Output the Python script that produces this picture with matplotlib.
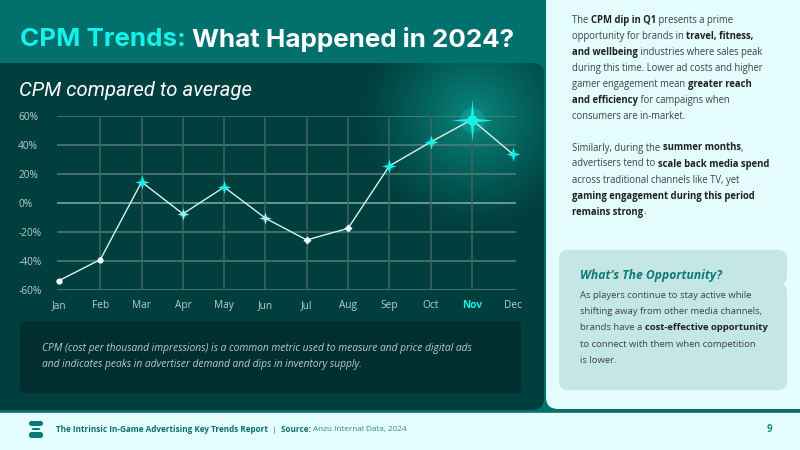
import numpy as np
import matplotlib
matplotlib.use("Agg")
import matplotlib.pyplot as plt
from matplotlib.patches import FancyBboxPatch, Rectangle
from matplotlib.path import Path

# data
months = ["Jan", "Feb", "Mar", "Apr", "May", "Jun", "Jul", "Aug", "Sep", "Oct", "Nov", "Dec"]
cpm_vs_avg = [-53.5, -39, 14.5, -7.5, 11, -10.5, -25.5, -17.5, 25.5, 42, 57.5, 33.5]
y_ticks = [60, 40, 20, 0, -20, -40, -60]
highlight_month = "Nov"

title_a = "CPM Trends:"
title_b = "What Happened in 2024?"
subtitle = "CPM compared to average"
caption = ["CPM (cost per thousand impressions) is a common metric used to measure and price digital ads",
           "and indicates peaks in advertiser demand and dips in inventory supply."]

# right panel copy, (text, bold) runs per line
para1 = [
    [("The ", 0), ("CPM dip in Q1", 1), (" presents a prime", 0)],
    [("opportunity for brands in ", 0), ("travel, fitness,", 1)],
    [("and wellbeing", 1), (" industries where sales peak", 0)],
    [("during this time. Lower ad costs and higher", 0)],
    [("gamer engagement mean ", 0), ("greater reach", 1)],
    [("and efficiency", 1), (" for campaigns when", 0)],
    [("consumers are in-market.", 0)],
]
para2 = [
    [("Similarly, during the ", 0), ("summer months", 1), (",", 0)],
    [("advertisers tend to ", 0), ("scale back media spend", 1)],
    [("across traditional channels like TV, yet", 0)],
    [("gaming engagement during this period", 1)],
    [("remains strong", 1), (".", 0)],
]
opp_title = "What\u2019s The Opportunity?"
opp_body = [
    [("As players continue to stay active while", 0)],
    [("shifting away from other media channels,", 0)],
    [("brands have a ", 0), ("cost-effective opportunity", 1)],
    [("to connect with them when competition", 0)],
    [("is lower.", 0)],
]
footer_title = "The Intrinsic In-Game Advertising Key Trends Report"
footer_source = "Anzu Internal Data, 2024"
page_no = "9"

TEAL_BG = "#02716e"
DARK = "#003f3e"
LIGHT = "#e4fcfc"
CYAN = "#14f2ea"
BODY = "Open Sans"

fig = plt.figure(figsize=(8, 4.5), dpi=100)
fig.patch.set_facecolor(TEAL_BG)
bg = fig.add_axes([0, 0, 1, 1])
bg.set_xlim(0, 800)
bg.set_ylim(450, 0)
bg.axis("off")


def box(x0, y0, x1, y1, color, r=10, z=1, **kw):
    p = FancyBboxPatch((x0, y0), x1 - x0, y1 - y0,
                       boxstyle=f"round,pad=0,rounding_size={r}",
                       fc=color, ec="none", zorder=z, **kw)
    bg.add_patch(p)
    return p


# panels
dark_panel = box(-20, 63, 544, 410, DARK, r=12)
box(546, -20, 820, 409, LIGHT, r=12)
box(20, 321, 521, 393, "#012f30", r=6, z=2)
box(559, 250, 787, 285, "#c4e6e4", r=9, z=2)
box(559, 283, 787, 390, "#c4e6e4", r=9, z=2)
bg.add_patch(Rectangle((559, 275), 200, 18, fc="#c4e6e4", ec="none", zorder=2))
bg.add_patch(Rectangle((-5, 412), 810, 45, fc=LIGHT, ec="#0b6f6b", lw=1.2, zorder=3))

# glow behind the peak
gx, gy, R = 474, 116, 115
xx, yy = np.meshgrid(np.linspace(gx - R, gx + R, 240), np.linspace(gy - R, gy + R, 240))
rr = np.hypot(xx - gx, yy - gy) / R
glow = np.zeros((240, 240, 4))
glow[..., 0], glow[..., 1], glow[..., 2] = 0.05, 0.6, 0.56
glow[..., 3] = np.clip(1 - rr, 0, 1) ** 1.2 * 0.8
im = bg.imshow(glow, extent=(gx - R, gx + R, gy + R, gy - R), zorder=1.5, interpolation="bilinear")
im.set_clip_path(dark_panel)
bg.set_xlim(0, 800)
bg.set_ylim(450, 0)

# titles
t = bg.text(20, 40, title_a + " ", color=CYAN, fontsize=18.7, fontweight="bold",
            family="Inter", va="center", zorder=5)
fig.canvas.draw()
r = fig.canvas.get_renderer()
w = t.get_window_extent(r).width
bg.text(20 + w, 40, title_b, color="white", fontsize=18.7, fontweight="bold",
        family="Inter", va="center", zorder=5)
bg.text(19, 90, subtitle, color="white", fontsize=14.6, style="italic",
        family="Roboto", va="center", zorder=5)
for i, line in enumerate(caption):
    bg.text(42, 348 + 16 * i, line, color="#b9cccc", fontsize=7.4, style="italic",
            family=BODY, va="center", zorder=5)


def run_width(s, **kw):
    a = bg.text(0, 0, s + "|", **kw)
    b = bg.text(0, 0, "|", **kw)
    wd = a.get_window_extent(r).width - b.get_window_extent(r).width
    a.remove()
    b.remove()
    return wd


def rich(lines, x, y0, dy, size, reg="#3c4444", bold="#1d2222"):
    for i, line in enumerate(lines):
        cx = x
        for s, b in line:
            kw = dict(fontsize=size, family=BODY, fontweight="bold" if b else "normal",
                      color=bold if b else reg, va="center", zorder=5)
            bg.text(cx, y0 + dy * i, s, **kw)
            cx += run_width(s, **kw)


rich(para1, 572, 20.5, 16, 6.85)
rich(para2, 572, 148, 16, 6.85)
bg.text(580, 275, opp_title, fontsize=8.7, fontweight="bold", style="italic",
        family="Open Sans", color="#0c7a75", va="center", zorder=5)
rich(opp_body, 580, 295.5, 16.2, 6.8)

# footer
for (x0, y0, x1, y1) in [(29, 421, 43, 426), (31, 428, 41, 430), (29, 432, 43, 438)]:
    box(x0, y0, x1, y1, "#0b7a75", r=2.5, z=5)
fx = 56
kw = dict(fontsize=5.9, family=BODY, va="center", zorder=5)
for s, wt, col in [(footer_title, "bold", "#0b6f6b"), ("  |  ", "normal", "#0b6f6b"),
                   ("Source: ", "bold", "#0b6f6b"), (footer_source, "normal", "#2e8a86")]:
    bg.text(fx, 430, s, fontweight=wt, color=col, **kw)
    fx += run_width(s, fontweight=wt, color=col, **kw)
bg.text(769, 430, page_no, fontsize=7, fontweight="bold", color="#1d8a85",
        va="center", ha="center", family=BODY, zorder=5)

# chart
ax = fig.add_axes([57 / 800, (450 - 290) / 450, 459 / 800, 174 / 450])
ax.set_facecolor("none")
ax.set_xlim(-0.05, 11.07)
ax.set_ylim(-60, 60)
for s in ax.spines.values():
    s.set_visible(False)
x = np.arange(len(months))
for v in y_ticks:
    ax.axhline(v, color="#7fb0ab" if v == 0 else "#55807b", lw=1.1, zorder=1)
for xi in x[1:-1]:
    ax.axvline(xi, color="#3f6663", lw=1.1, zorder=1)
ax.set_yticks(y_ticks)
ax.set_yticklabels([f"{v}%" for v in y_ticks])
ax.set_xticks(x)
ax.set_xticklabels(months)
ax.tick_params(length=0, colors="#b9cfcd", labelsize=7.3)
ax.tick_params(axis="y", pad=28)
for lbl in ax.get_yticklabels():
    lbl.set_ha("left")
    lbl.set_family(BODY)
for lbl in ax.get_xticklabels():
    lbl.set_family(BODY)
    if lbl.get_text() == highlight_month:
        lbl.set_color(CYAN)
        lbl.set_fontweight("bold")
ax.tick_params(axis="x", pad=7)

ax.plot(x, cpm_vs_avg, color="#d6f3ef", lw=1, zorder=3, clip_on=False)


def make_star(k):
    return Path([(0, 1), (k, k), (1, 0), (k, -k), (0, -1), (-k, -k), (-1, 0), (-k, k), (0, 1)],
                [Path.MOVETO] + [Path.LINETO] * 7 + [Path.CLOSEPOLY])


star = make_star(0.2)
big_star = make_star(0.09)
# per-point marker look: (marker, size, colour)
looks = [("o", 4.5, "white"), ("o", 4.5, "white"), (star, 10.5, CYAN), (star, 9, "#8ff7f1"),
         (star, 10, CYAN), (star, 9, "#a6f8f3"), ("D", 4, "#eefcfb"), ("D", 4, "#eefcfb"),
         (star, 10.5, CYAN), (star, 10.5, CYAN), (big_star, 30, CYAN), (star, 10.5, CYAN)]
for xi, v, (m, ms, c) in zip(x, cpm_vs_avg, looks):
    if m is star or m is big_star:
        ax.plot(xi, v, "o", ms=ms * 0.6, color=c, alpha=0.2, mec="none", zorder=4, clip_on=False)
        ax.plot(xi, v, "o", ms=ms * 0.25, color=c, mec="none", zorder=5, clip_on=False)
    ax.plot(xi, v, marker=m, ms=ms, color=c, mec="none", zorder=5, clip_on=False)

fig.savefig("out.png", dpi=100, facecolor=fig.get_facecolor())
